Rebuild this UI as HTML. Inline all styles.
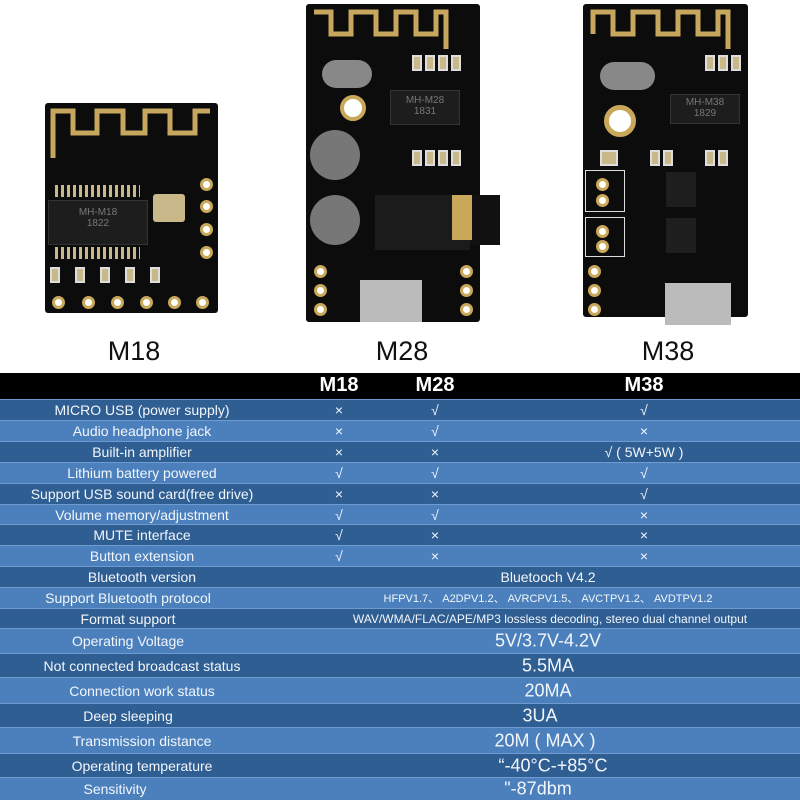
<!DOCTYPE html>
<html><head><meta charset="utf-8"><style>
*{margin:0;padding:0;box-sizing:border-box}
body{width:800px;height:800px;background:#fff;position:relative;overflow:hidden;font-family:"Liberation Sans",sans-serif}
.a{position:absolute}
.board{position:absolute;background:#0c0c0c;border-radius:3px}
.lbl{position:absolute;font-size:27px;color:#111;transform:translateX(-50%)}
.row{position:absolute;left:0;width:800px;color:#f2f6fb;border-top:1px solid #6f9bd0}
.row span{position:absolute;transform:translate(-50%,-50%);top:50%;white-space:nowrap}
.d{background:#2f5e93}.l{background:#4b80bd}
.chip{position:absolute;background:#1d1d1d;border:1px solid #333;color:#777;font-size:10px;text-align:center}
.pad{position:absolute;width:13px;height:13px;border-radius:50%;border:3px solid #c9a85a;background:#fff}
.sm{position:absolute;width:10px;height:16px;background:#c9b98a;border:2px solid #ddd}
.box{position:absolute;border:1px solid #ddd}
</style></head><body>
<!-- M18 board -->
<div class="board" style="left:45px;top:103px;width:173px;height:210px"></div>
<svg class="a" style="left:45px;top:103px" width="173" height="60"><path d="M8 55 V8 H28 V30 H52 V8 H78 V30 H100 V8 H125 V30 H150 V8 H165" fill="none" stroke="#c7a65e" stroke-width="5"/></svg>
<div class="a" style="left:55px;top:185px;width:85px;height:12px;background:repeating-linear-gradient(90deg,#c9b98a 0 3px,transparent 3px 6px)"></div>
<div class="a" style="left:55px;top:247px;width:85px;height:12px;background:repeating-linear-gradient(90deg,#c9b98a 0 3px,transparent 3px 6px)"></div>
<div class="chip" style="left:48px;top:200px;width:100px;height:45px;padding-top:6px">MH-M18<br>1822</div>
<div class="a" style="left:153px;top:194px;width:32px;height:28px;background:#c9b98a;border-radius:3px"></div>
<div class="sm" style="left:50px;top:267px"></div><div class="sm" style="left:75px;top:267px"></div><div class="sm" style="left:100px;top:267px"></div><div class="sm" style="left:125px;top:267px"></div><div class="sm" style="left:150px;top:267px"></div>
<div class="pad" style="left:200px;top:178px"></div><div class="pad" style="left:200px;top:200px"></div><div class="pad" style="left:200px;top:223px"></div><div class="pad" style="left:200px;top:246px"></div>
<div class="pad" style="left:52px;top:296px"></div><div class="pad" style="left:82px;top:296px"></div><div class="pad" style="left:111px;top:296px"></div><div class="pad" style="left:140px;top:296px"></div><div class="pad" style="left:168px;top:296px"></div><div class="pad" style="left:196px;top:296px"></div>
<!-- M28 board -->
<div class="board" style="left:306px;top:4px;width:174px;height:318px"></div>
<div class="a" style="left:470px;top:195px;width:30px;height:50px;background:#111"></div>
<svg class="a" style="left:306px;top:4px" width="174" height="50"><path d="M8 8 H25 V30 H45 V8 H70 V30 H90 V8 H110 V30 H130 V8 H140 V45" fill="none" stroke="#c7a65e" stroke-width="5"/></svg>
<div class="a" style="left:322px;top:60px;width:50px;height:28px;background:#888;border-radius:14px"></div>
<div class="sm" style="left:412px;top:55px"></div><div class="sm" style="left:425px;top:55px"></div><div class="sm" style="left:438px;top:55px"></div><div class="sm" style="left:451px;top:55px"></div>
<div class="a" style="left:340px;top:95px;width:26px;height:26px;background:#fff;border:4px solid #c9a85a;border-radius:50%"></div>
<div class="chip" style="left:390px;top:90px;width:70px;height:35px;padding-top:4px">MH-M28<br>1831</div>
<div class="a" style="left:310px;top:130px;width:50px;height:50px;background:#777;border-radius:50%"></div>
<div class="sm" style="left:412px;top:150px"></div><div class="sm" style="left:425px;top:150px"></div><div class="sm" style="left:438px;top:150px"></div><div class="sm" style="left:451px;top:150px"></div>
<div class="a" style="left:310px;top:195px;width:50px;height:50px;background:#777;border-radius:50%"></div>
<div class="a" style="left:375px;top:195px;width:95px;height:55px;background:#1b1b1b"></div>
<div class="a" style="left:452px;top:195px;width:20px;height:45px;background:#c9a85a"></div>
<div class="pad" style="left:314px;top:265px"></div><div class="pad" style="left:314px;top:284px"></div><div class="pad" style="left:314px;top:303px"></div>
<div class="pad" style="left:460px;top:265px"></div><div class="pad" style="left:460px;top:284px"></div><div class="pad" style="left:460px;top:303px"></div>
<div class="a" style="left:360px;top:280px;width:62px;height:42px;background:#bbb"></div>
<!-- M38 board -->
<div class="board" style="left:583px;top:4px;width:165px;height:313px"></div>
<svg class="a" style="left:583px;top:4px" width="165" height="50"><path d="M10 30 V8 H30 V30 H50 V8 H75 V30 H95 V8 H115 V30 H135 V8 H145 V45" fill="none" stroke="#c7a65e" stroke-width="5"/></svg>
<div class="a" style="left:600px;top:62px;width:55px;height:28px;background:#888;border-radius:14px"></div>
<div class="sm" style="left:705px;top:55px"></div><div class="sm" style="left:718px;top:55px"></div><div class="sm" style="left:731px;top:55px"></div>
<div class="a" style="left:604px;top:105px;width:32px;height:32px;background:#fff;border:5px solid #c9a85a;border-radius:50%"></div>
<div class="chip" style="left:670px;top:94px;width:70px;height:30px;padding-top:2px">MH-M38<br>1829</div>
<div class="sm" style="left:600px;top:150px;width:18px"></div><div class="sm" style="left:650px;top:150px"></div><div class="sm" style="left:663px;top:150px"></div><div class="sm" style="left:705px;top:150px"></div><div class="sm" style="left:718px;top:150px"></div>
<div class="box" style="left:585px;top:170px;width:40px;height:42px"></div>
<div class="box" style="left:585px;top:217px;width:40px;height:40px"></div>
<div class="pad" style="left:596px;top:178px"></div><div class="pad" style="left:596px;top:194px"></div>
<div class="pad" style="left:596px;top:225px"></div><div class="pad" style="left:596px;top:240px"></div>
<div class="a" style="left:666px;top:172px;width:30px;height:35px;background:#1e1e1e"></div>
<div class="a" style="left:666px;top:218px;width:30px;height:35px;background:#1e1e1e"></div>
<div class="pad" style="left:588px;top:265px"></div><div class="pad" style="left:588px;top:284px"></div><div class="pad" style="left:588px;top:303px"></div>
<div class="a" style="left:665px;top:283px;width:66px;height:42px;background:#bbb"></div>
<!-- labels -->
<div class="lbl" style="left:134px;top:336px">M18</div>
<div class="lbl" style="left:402px;top:336px">M28</div>
<div class="lbl" style="left:668px;top:336px">M38</div>
<!-- header -->
<div class="a" style="left:0;top:373px;width:800px;height:26px;background:#000;color:#fff;font-weight:bold;font-size:20px">
<span class="a" style="left:339px;top:1px;transform:translateX(-50%)">M18</span>
<span class="a" style="left:435px;top:1px;transform:translateX(-50%)">M28</span>
<span class="a" style="left:644px;top:1px;transform:translateX(-50%)">M38</span>
</div>
<div style="font-size:14px">
<div class="row d" style="top:399px;height:21px"><span style="left:142px">MICRO USB (power supply)</span><span style="left:339px">×</span><span style="left:435px">√</span><span style="left:644px">√</span></div>
<div class="row l" style="top:420px;height:21px"><span style="left:142px">Audio headphone jack</span><span style="left:339px">×</span><span style="left:435px">√</span><span style="left:644px">×</span></div>
<div class="row d" style="top:441px;height:21px"><span style="left:142px">Built-in amplifier</span><span style="left:339px">×</span><span style="left:435px">×</span><span style="left:644px">√ ( 5W+5W )</span></div>
<div class="row l" style="top:462px;height:21px"><span style="left:142px">Lithium battery powered</span><span style="left:339px">√</span><span style="left:435px">√</span><span style="left:644px">√</span></div>
<div class="row d" style="top:483px;height:21px"><span style="left:142px">Support USB sound card(free drive)</span><span style="left:339px">×</span><span style="left:435px">×</span><span style="left:644px">√</span></div>
<div class="row l" style="top:504px;height:20px"><span style="left:142px">Volume memory/adjustment</span><span style="left:339px">√</span><span style="left:435px">√</span><span style="left:644px">×</span></div>
<div class="row d" style="top:524px;height:21px"><span style="left:142px">MUTE interface</span><span style="left:339px">√</span><span style="left:435px">×</span><span style="left:644px">×</span></div>
<div class="row l" style="top:545px;height:21px"><span style="left:142px">Button extension</span><span style="left:339px">√</span><span style="left:435px">×</span><span style="left:644px">×</span></div>
<div class="row d" style="top:566px;height:21px"><span style="left:142px">Bluetooth version</span><span style="left:548px">Bluetooch V4.2</span></div>
<div class="row l" style="top:587px;height:21px"><span style="left:128px">Support Bluetooth protocol</span><span style="left:548px;font-size:11px">HFPV1.7、 A2DPV1.2、 AVRCPV1.5、 AVCTPV1.2、 AVDTPV1.2</span></div>
<div class="row d" style="top:608px;height:20px"><span style="left:128px">Format support</span><span style="left:550px;font-size:12px">WAV/WMA/FLAC/APE/MP3 lossless decoding, stereo dual channel output</span></div>
<div class="row l" style="top:628px;height:25px"><span style="left:128px">Operating Voltage</span><span style="left:548px;font-size:18px">5V/3.7V-4.2V</span></div>
<div class="row d" style="top:653px;height:24px"><span style="left:142px">Not connected broadcast status</span><span style="left:548px;font-size:18px">5.5MA</span></div>
<div class="row l" style="top:677px;height:26px"><span style="left:142px">Connection work status</span><span style="left:548px;font-size:18px">20MA</span></div>
<div class="row d" style="top:703px;height:24px"><span style="left:128px">Deep sleeping</span><span style="left:540px;font-size:18px">3UA</span></div>
<div class="row l" style="top:727px;height:26px"><span style="left:142px">Transmission distance</span><span style="left:545px;font-size:18px">20M ( MAX )</span></div>
<div class="row d" style="top:753px;height:24px"><span style="left:142px">Operating temperature</span><span style="left:553px;font-size:18px">“-40°C-+85°C</span></div>
<div class="row l" style="top:777px;height:23px"><span style="left:115px">Sensitivity</span><span style="left:538px;font-size:18px">"-87dbm</span></div>
</div>
</body></html>
